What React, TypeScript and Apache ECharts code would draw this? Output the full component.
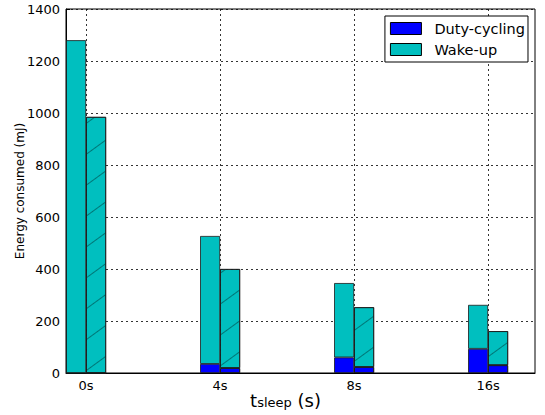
import React, { useEffect, useRef } from "react";
import * as echarts from "echarts";

const categories = ["0s", "4s", "8s", "16s"];
const leftDuty = [0, 35, 60, 93];
const leftWake = [1280, 492, 286, 169];
const rightDuty = [0, 19, 23, 30];
const rightWake = [985, 381, 230, 131];
const yTicks = [0, 200, 400, 600, 800, 1000, 1200, 1400];

const BLUE = "#0000ff";
const CYAN = "#00bfbf";
const FONT = "DejaVu Sans";

export default function App() {
  const ref = useRef<HTMLDivElement>(null);
  useEffect(() => {
    if (!ref.current) return;
    const chart = echarts.init(ref.current, undefined, { renderer: "svg" });
    const xs = categories.map((_, i) => i);
    // rows are [value, categoryIndex] so the value dimension is the stacked one
    const rows = (arr: number[]) => arr.map((v, i) => [v, i]);
    const decal = {
      symbol: "rect",
      symbolSize: 1,
      color: "rgba(0,70,70,0.6)",
      dashArrayX: [1, 0],
      dashArrayY: [1, 24],
      rotation: -Math.PI / 5,
    };
    const border = { borderColor: "#1a1a1a", borderWidth: 0.8 };
    const common = {
      type: "bar",
      barWidth: 20,
      barGap: "0%",
      encode: { x: 1, y: 0 },
      dimensions: ["v", "x"],
    };
    chart.setOption({
      animation: false,
      grid: {
        left: 66,
        top: 9,
        right: 10,
        bottom: 42,
        show: true,
        containLabel: false,
        outerBoundsMode: "none",
        borderColor: "#000",
        borderWidth: 1,
        backgroundColor: "#fff",
      },
      legend: {
        data: ["Duty-cycling", "Wake-up"],
        orient: "vertical",
        right: 17,
        top: 16,
        icon: "rect",
        itemWidth: 31,
        itemHeight: 12,
        itemGap: 6,
        padding: [5, 3, 5, 5],
        borderColor: "#000",
        borderWidth: 1,
        backgroundColor: "#fff",
        textStyle: { fontFamily: FONT, fontSize: 14.5, color: "#000", padding: [0, 0, 0, 8] },
        itemStyle: { borderColor: "#000", borderWidth: 1, decal: "none" },
      },
      xAxis: {
        type: "value",
        min: -0.15,
        max: 3.35,
        axisLine: { show: true, onZero: false, lineStyle: { color: "#000" } },
        axisTick: { show: true, inside: true, length: 4, customValues: xs, lineStyle: { color: "#000" } },
        axisLabel: {
          customValues: xs,
          formatter: (v: number) => categories[Math.round(v)] ?? "",
          fontFamily: FONT,
          fontSize: 13,
          color: "#000",
          margin: 6,
        },
        splitLine: { show: true, lineStyle: { color: "#000", type: [2, 3], width: 0.8 } },
        name: "{t|t}{s|sleep}{t| (s)}",
        nameLocation: "middle",
        nameGap: 18,
        nameMoveOverlap: false,
        nameTextStyle: {
          padding: [0, 30, 0, 0],
          rich: {
            t: { fontFamily: FONT, fontSize: 18, color: "#000", verticalAlign: "bottom" },
            s: { fontFamily: FONT, fontSize: 13, color: "#000", verticalAlign: "bottom" },
          },
        },
      },
      yAxis: {
        type: "value",
        min: 0,
        max: 1400,
        interval: 200,
        axisLine: { show: true, onZero: false, lineStyle: { color: "#000" } },
        axisTick: { show: true, inside: true, length: 4, lineStyle: { color: "#000" } },
        axisLabel: {
          fontFamily: FONT,
          fontSize: 13,
          color: "#000",
          margin: 6,
          formatter: (v: number) => (yTicks.includes(v) ? String(v) : ""),
        },
        splitLine: { show: true, lineStyle: { color: "#000", type: [2, 3], width: 0.8 } },
        name: "Energy consumed (mJ)",
        nameLocation: "middle",
        nameGap: 40,
        nameMoveOverlap: false,
        nameTextStyle: { fontFamily: FONT, fontSize: 12, color: "#000" },
      },
      series: [
        { ...common, name: "Duty-cycling", stack: "L", data: rows(leftDuty), itemStyle: { color: BLUE, ...border } },
        { ...common, name: "Wake-up", stack: "L", data: rows(leftWake), itemStyle: { color: CYAN, ...border } },
        { ...common, name: "Duty-cycling", stack: "R", data: rows(rightDuty), itemStyle: { color: BLUE, ...border, decal } },
        { ...common, name: "Wake-up", stack: "R", data: rows(rightWake), itemStyle: { color: CYAN, ...border, decal } },
      ],
    });
    return () => chart.dispose();
  }, []);
  return <div ref={ref} style={{ position: "absolute", left: 0, top: 0, width: 545, height: 415 }} />;
}
